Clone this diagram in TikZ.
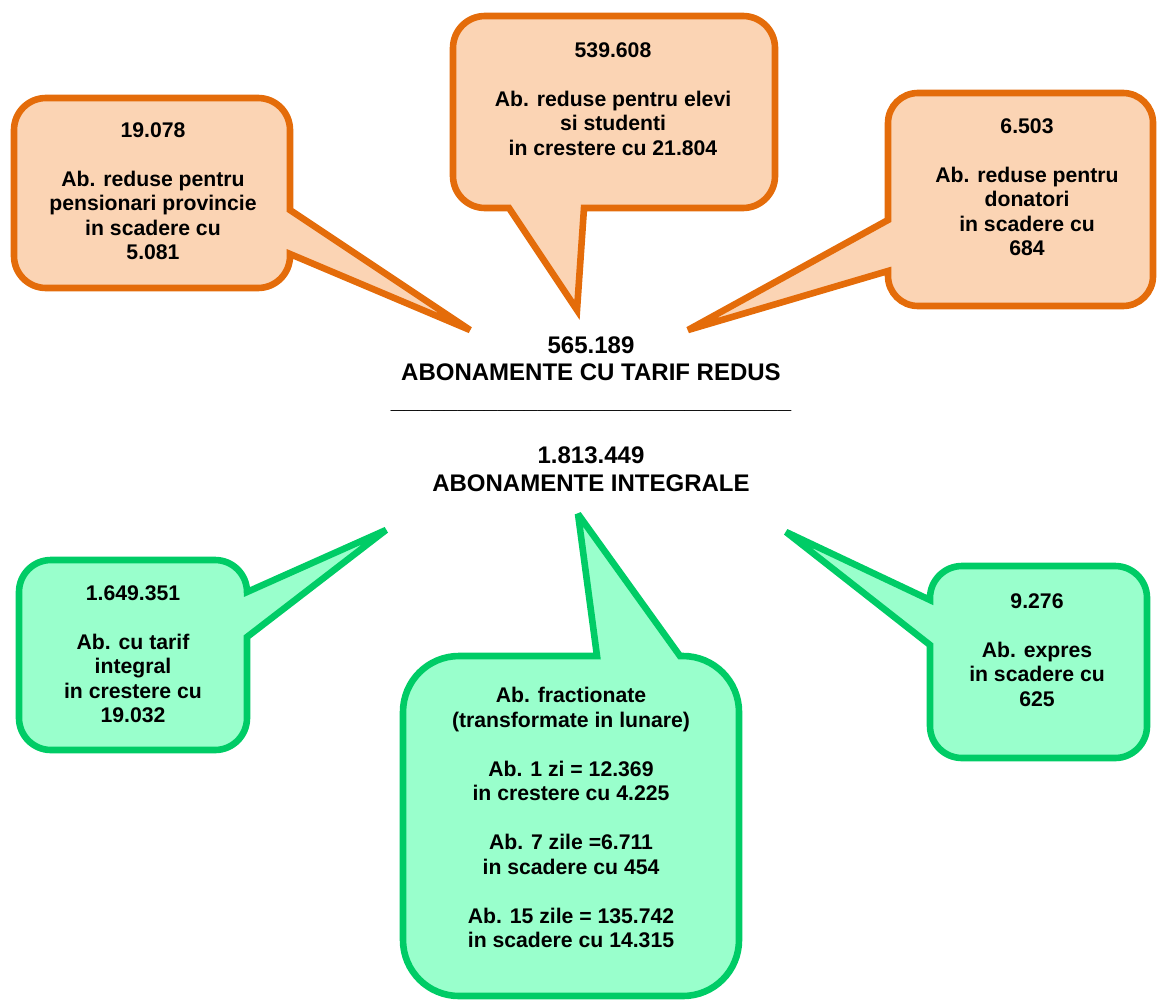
\documentclass[tikz,border=0pt]{standalone}
\usepackage{fontspec}
\setmainfont{Liberation Sans}

\definecolor{orangeline}{RGB}{228,108,10}
\definecolor{orangefill}{RGB}{251,212,180}
\definecolor{greenline}{RGB}{0,204,102}
\definecolor{greenfill}{RGB}{153,255,204}

\tikzset{
  reducedcall/.style={draw=orangeline, fill=orangefill, line width=3.3pt, miter limit=4},
  fullcall/.style={draw=greenline, fill=greenfill, line width=3.3pt, miter limit=4},
  calltext/.style={anchor=north, inner sep=0pt, align=center,
    font=\fontsize{10.6}{12.25}\selectfont\bfseries},
  totaltext/.style={anchor=north, inner sep=0pt, align=center,
    font=\fontsize{12}{13.8}\selectfont\bfseries}
}

\begin{document}
\begin{tikzpicture}[x=0.5pt, y=-0.5pt]
% Fix the page size (one unit is one pixel of the original)
\useasboundingbox (0,0) rectangle (1159,1001);

% Draw the orange callouts (reduced fares)
\draw[reducedcall] (46,98) -- (258,98) arc[start angle=90, end angle=0, radius=16pt] -- (290,210) -- (470,330) -- (290,254) -- (290,256) arc[start angle=0, end angle=-90, radius=16pt] -- (46,288) arc[start angle=-90, end angle=-180, radius=16pt] -- (14,130) arc[start angle=180, end angle=90, radius=16pt] -- cycle;
\node[calltext] (pensionari) at (153,122) {19.078\\[12.25pt]Ab. reduse pentru\\pensionari provincie\\in scadere cu\\5.081};

\draw[reducedcall] (485,16) -- (743,16) arc[start angle=90, end angle=0, radius=16pt] -- (775,176) arc[start angle=0, end angle=-90, radius=16pt] -- (584,208) -- (577,310) -- (509,208) -- (485,208) arc[start angle=-90, end angle=-180, radius=16pt] -- (453,48) arc[start angle=180, end angle=90, radius=16pt] -- cycle;
\node[calltext] (elevi) at (613,42) {539.608\\[12.25pt]Ab. reduse pentru elevi\\si studenti\\in crestere cu 21.804};

\draw[reducedcall] (918,93) -- (1123,93) arc[start angle=90, end angle=0, radius=15pt] -- (1153,276) arc[start angle=0, end angle=-90, radius=15pt] -- (918,306) arc[start angle=-90, end angle=-180, radius=15pt] -- (888,271) -- (688,330) -- (888,220) -- (888,123) arc[start angle=180, end angle=90, radius=15pt] -- cycle;
\node[calltext] (donatori) at (1027,118) {6.503\\[12.25pt]Ab. reduse pentru\\donatori\\in scadere cu\\684};

% Totals in the middle
\node[totaltext] (total) at (591,336) {565.189\\ABONAMENTE CU TARIF REDUS\\\_\_\_\_\_\_\_\_\_\_\_\_\_\_\_\_\_\_\_\_\_\_\_\_\_\_\_\_\_\_\\[13.8pt]1.813.449\\ABONAMENTE INTEGRALE};

% Draw the green callouts (full fares)
\draw[fullcall] (51,560) -- (215,560) arc[start angle=90, end angle=0, radius=16pt] -- (386,530) -- (247,637) -- (247,718) arc[start angle=0, end angle=-90, radius=16pt] -- (51,750) arc[start angle=-90, end angle=-180, radius=16pt] -- (19,592) arc[start angle=180, end angle=90, radius=16pt] -- cycle;
\node[calltext] (integral) at (133,585) {1.649.351\\[12.25pt]Ab. cu tarif\\integral\\in crestere cu\\19.032};

\draw[fullcall] (459,656) -- (597,656) -- (578,514) -- (680,656) -- (683,656) arc[start angle=90, end angle=0, radius=28pt] -- (739,940) arc[start angle=0, end angle=-90, radius=28pt] -- (459,996) arc[start angle=-90, end angle=-180, radius=28pt] -- (403,712) arc[start angle=180, end angle=90, radius=28pt] -- cycle;
\node[calltext] (fractionate) at (571,687) {Ab. fractionate\\(transformate in lunare)\\[12.25pt]Ab. 1 zi = 12.369\\in crestere cu 4.225\\[12.25pt]Ab. 7 zile =6.711\\in scadere cu 454\\[12.25pt]Ab. 15 zile = 135.742\\in scadere cu 14.315};

\draw[fullcall] (962,566) -- (1115,566) arc[start angle=90, end angle=0, radius=16pt] -- (1147,726) arc[start angle=0, end angle=-90, radius=16pt] -- (962,758) arc[start angle=-90, end angle=-180, radius=16pt] -- (930,645) -- (786,532) -- (930,600) -- (930,598) arc[start angle=180, end angle=90, radius=16pt] -- cycle;
\node[calltext] (expres) at (1037,593) {9.276\\[12.25pt]Ab. expres\\in scadere cu\\625};
\end{tikzpicture}
\end{document}
